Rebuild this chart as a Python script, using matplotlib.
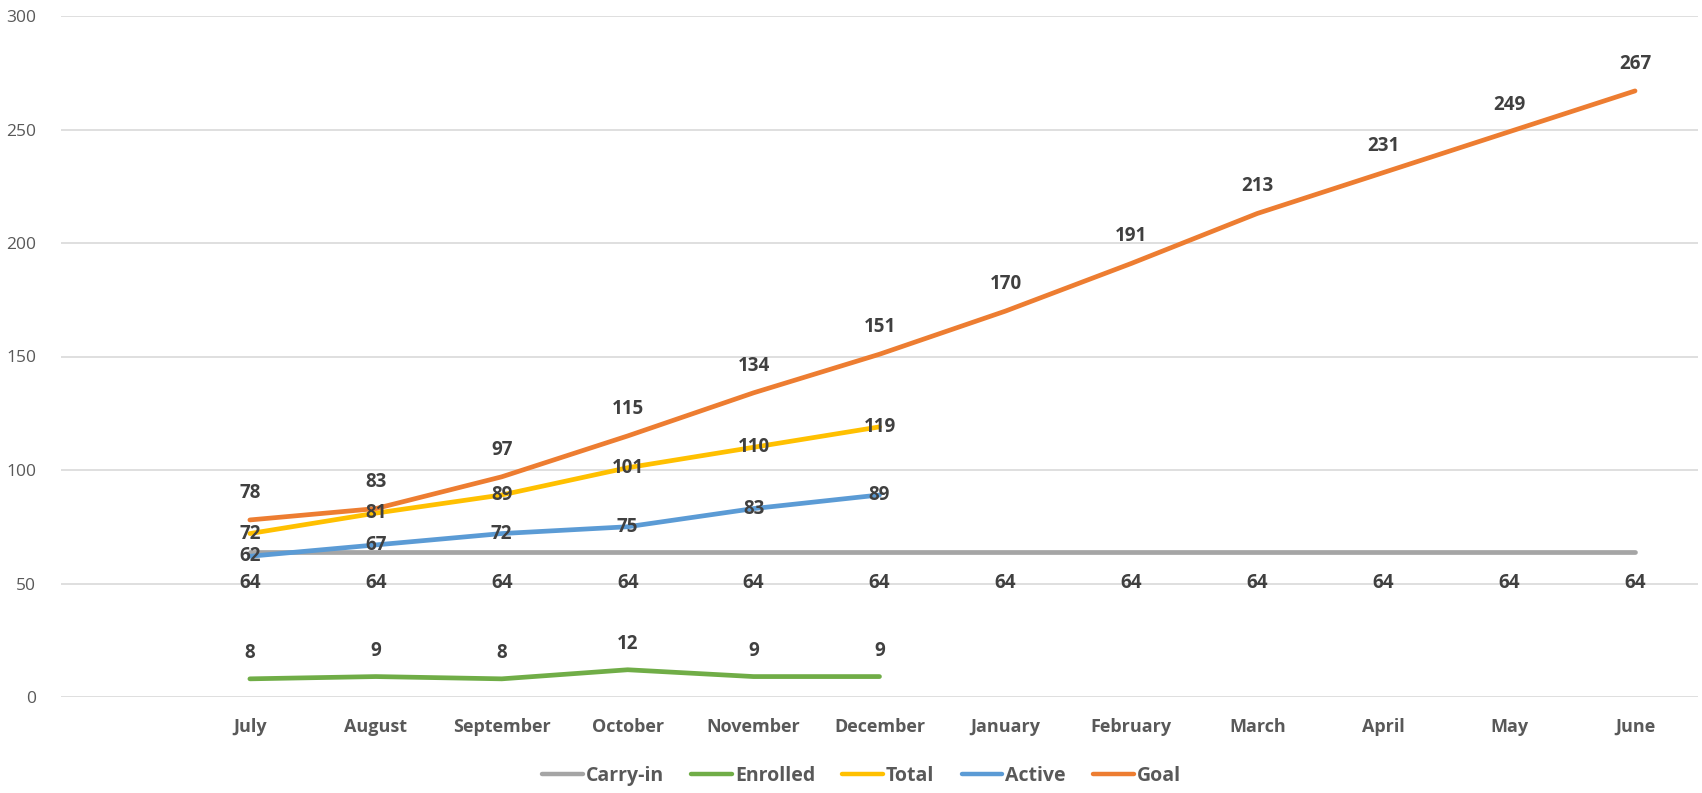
import numpy as np
import matplotlib.pyplot as plt

plt.rcParams['font.family'] = ['Open Sans', 'DejaVu Sans']

months = ['', 'July', 'August', 'September', 'October', 'November', 'December',
          'January', 'February', 'March', 'April', 'May', 'June']

carry_in = [64, 64, 64, 64, 64, 64, 64, 64, 64, 64, 64, 64]
enrolled = [8, 9, 8, 12, 9, 9]
total = [72, 81, 89, 101, 110, 119]
active = [62, 67, 72, 75, 83, 89]
goal = [78, 83, 97, 115, 134, 151, 170, 191, 213, 231, 249, 267]

# name, values, colour, label offset in px (+ above, - below, 0 centred)
series = [
    ('Carry-in', carry_in, '#A5A5A5', -31),
    ('Enrolled', enrolled, '#70AD47', 26),
    ('Total', total, '#FFC000', 0),
    ('Active', active, '#5B9BD5', 0),
    ('Goal', goal, '#ED7D31', 27),
]

W, H = 1702, 793
fig = plt.figure(figsize=(W / 100, H / 100), dpi=100)
ax = fig.add_axes([61 / W, 1 - 697 / H, (1698 - 61) / W, (697 - 16) / H])

for name, vals, col, off in series:
    x = np.arange(1, len(vals) + 1)
    ax.plot(x, vals, color=col, lw=3.4, solid_capstyle='round', label=name)
    for xi, v in zip(x, vals):
        ax.annotate(str(v), (xi, v), xytext=(0, off), textcoords='offset pixels',
                    ha='center', va='center', fontsize=13.5, fontweight='bold',
                    color='#404040')

ax.set_xlim(-0.5, 12.5)
ax.set_ylim(0, 300)
ax.set_yticks(np.arange(0, 301, 50))
ax.set_xticks(np.arange(len(months)))
ax.set_xticklabels(months, fontsize=13, fontweight='bold', color='#595959')
ax.tick_params(axis='y', labelsize=12.5, labelcolor='#595959', length=0, pad=18)
ax.tick_params(axis='x', length=0, pad=15)
ax.grid(axis='y', color='#D9D9D9', lw=1.2)
ax.set_axisbelow(True)
for s in ax.spines.values():
    s.set_visible(False)

leg = ax.legend(loc='center', bbox_to_anchor=(0.5 - 18 / (1698 - 61), (697 - 776) / (697 - 16)),
                ncol=5, frameon=False, handlelength=2.1, columnspacing=1.4,
                handletextpad=0.15, prop={'size': 14, 'weight': 'bold'})
for t in leg.get_texts():
    t.set_color('#595959')
for h in leg.get_lines():
    h.set_linewidth(3.2)

fig.savefig('out.png', dpi=100)
